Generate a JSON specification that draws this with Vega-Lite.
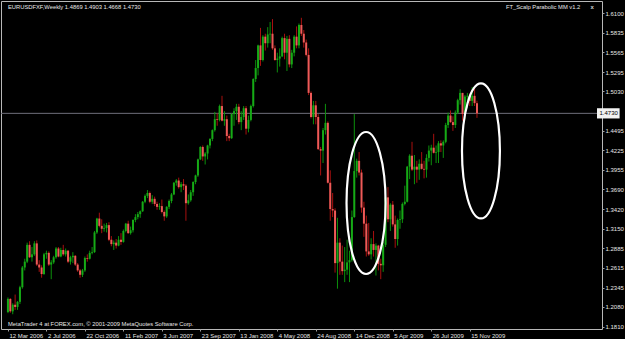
{
"$schema": "https://vega.github.io/schema/vega-lite/v6.json",
"width": 601, "height": 328,
"autosize": {"type": "none"},
"padding": {"left": 1, "top": 1, "right": 23, "bottom": 10},
"background": "#000000",
"config": {
  "view": {"stroke": "#b8b8b8", "strokeWidth": 1, "fill": "#000000"},
  "axis": {"domain": false, "grid": false, "title": null, "labelColor": "#e6e6e6", "tickColor": "#a0a0a0", "labelFont": "Liberation Sans", "labelFontSize": 6, "labelOverlap": false, "labelFlush": false}
},
"datasets": {
  "candles": [
{"d":"2006-03-12","o":1.2010,"h":1.2210,"l":1.1995,"c":1.2190},
{"d":"2006-03-19","o":1.2190,"h":1.2200,"l":1.2000,"c":1.2020},
{"d":"2006-03-26","o":1.2020,"h":1.2130,"l":1.1980,"c":1.2110},
{"d":"2006-04-02","o":1.2110,"h":1.2250,"l":1.2040,"c":1.2080},
{"d":"2006-04-09","o":1.2080,"h":1.2160,"l":1.2040,"c":1.2150},
{"d":"2006-04-16","o":1.2150,"h":1.2370,"l":1.2120,"c":1.2350},
{"d":"2006-04-23","o":1.2350,"h":1.2640,"l":1.2330,"c":1.2620},
{"d":"2006-04-30","o":1.2620,"h":1.2740,"l":1.2580,"c":1.2700},
{"d":"2006-05-07","o":1.2700,"h":1.2960,"l":1.2680,"c":1.2930},
{"d":"2006-05-14","o":1.2930,"h":1.2980,"l":1.2750,"c":1.2760},
{"d":"2006-05-21","o":1.2760,"h":1.2900,"l":1.2700,"c":1.2800},
{"d":"2006-05-28","o":1.2800,"h":1.2980,"l":1.2780,"c":1.2950},
{"d":"2006-06-04","o":1.2950,"h":1.2990,"l":1.2640,"c":1.2660},
{"d":"2006-06-11","o":1.2660,"h":1.2720,"l":1.2560,"c":1.2620},
{"d":"2006-06-18","o":1.2620,"h":1.2650,"l":1.2480,"c":1.2530},
{"d":"2006-06-25","o":1.2530,"h":1.2820,"l":1.2520,"c":1.2800},
{"d":"2006-07-02","o":1.2800,"h":1.2850,"l":1.2740,"c":1.2820},
{"d":"2006-07-09","o":1.2820,"h":1.2840,"l":1.2640,"c":1.2660},
{"d":"2006-07-16","o":1.2660,"h":1.2720,"l":1.2460,"c":1.2690},
{"d":"2006-07-23","o":1.2690,"h":1.2780,"l":1.2670,"c":1.2760},
{"d":"2006-07-30","o":1.2760,"h":1.2900,"l":1.2740,"c":1.2880},
{"d":"2006-08-06","o":1.2880,"h":1.2900,"l":1.2760,"c":1.2770},
{"d":"2006-08-13","o":1.2770,"h":1.2890,"l":1.2760,"c":1.2860},
{"d":"2006-08-20","o":1.2860,"h":1.2930,"l":1.2780,"c":1.2800},
{"d":"2006-08-27","o":1.2800,"h":1.2880,"l":1.2770,"c":1.2850},
{"d":"2006-09-03","o":1.2850,"h":1.2860,"l":1.2680,"c":1.2700},
{"d":"2006-09-10","o":1.2700,"h":1.2780,"l":1.2660,"c":1.2760},
{"d":"2006-09-17","o":1.2760,"h":1.2830,"l":1.2680,"c":1.2780},
{"d":"2006-09-24","o":1.2780,"h":1.2790,"l":1.2640,"c":1.2660},
{"d":"2006-10-01","o":1.2660,"h":1.2680,"l":1.2560,"c":1.2580},
{"d":"2006-10-08","o":1.2580,"h":1.2600,"l":1.2480,"c":1.2520},
{"d":"2006-10-15","o":1.2520,"h":1.2600,"l":1.2490,"c":1.2580},
{"d":"2006-10-22","o":1.2580,"h":1.2770,"l":1.2560,"c":1.2750},
{"d":"2006-10-29","o":1.2750,"h":1.2800,"l":1.2700,"c":1.2740},
{"d":"2006-11-05","o":1.2740,"h":1.2850,"l":1.2730,"c":1.2820},
{"d":"2006-11-12","o":1.2820,"h":1.2900,"l":1.2800,"c":1.2830},
{"d":"2006-11-19","o":1.2830,"h":1.3120,"l":1.2820,"c":1.3100},
{"d":"2006-11-26","o":1.3100,"h":1.3300,"l":1.3080,"c":1.3290},
{"d":"2006-12-03","o":1.3290,"h":1.3370,"l":1.3170,"c":1.3190},
{"d":"2006-12-10","o":1.3190,"h":1.3280,"l":1.3090,"c":1.3150},
{"d":"2006-12-17","o":1.3150,"h":1.3220,"l":1.3110,"c":1.3160},
{"d":"2006-12-24","o":1.3160,"h":1.3230,"l":1.3100,"c":1.3200},
{"d":"2006-12-31","o":1.3200,"h":1.3240,"l":1.2980,"c":1.3000},
{"d":"2007-01-07","o":1.3000,"h":1.3050,"l":1.2910,"c":1.2940},
{"d":"2007-01-14","o":1.2940,"h":1.2990,"l":1.2860,"c":1.2960},
{"d":"2007-01-21","o":1.2960,"h":1.3010,"l":1.2880,"c":1.2920},
{"d":"2007-01-28","o":1.2920,"h":1.3050,"l":1.2910,"c":1.3000},
{"d":"2007-02-04","o":1.3000,"h":1.3090,"l":1.2930,"c":1.2970},
{"d":"2007-02-11","o":1.2970,"h":1.3140,"l":1.2960,"c":1.3120},
{"d":"2007-02-18","o":1.3120,"h":1.3230,"l":1.3100,"c":1.3220},
{"d":"2007-02-25","o":1.3220,"h":1.3260,"l":1.3080,"c":1.3090},
{"d":"2007-03-04","o":1.3090,"h":1.3180,"l":1.3070,"c":1.3130},
{"d":"2007-03-11","o":1.3130,"h":1.3280,"l":1.3100,"c":1.3270},
{"d":"2007-03-18","o":1.3270,"h":1.3350,"l":1.3240,"c":1.3310},
{"d":"2007-03-25","o":1.3310,"h":1.3380,"l":1.3280,"c":1.3350},
{"d":"2007-04-01","o":1.3350,"h":1.3400,"l":1.3300,"c":1.3390},
{"d":"2007-04-08","o":1.3390,"h":1.3530,"l":1.3380,"c":1.3520},
{"d":"2007-04-15","o":1.3520,"h":1.3620,"l":1.3500,"c":1.3600},
{"d":"2007-04-22","o":1.3600,"h":1.3680,"l":1.3570,"c":1.3640},
{"d":"2007-04-29","o":1.3640,"h":1.3660,"l":1.3500,"c":1.3520},
{"d":"2007-05-06","o":1.3520,"h":1.3610,"l":1.3490,"c":1.3560},
{"d":"2007-05-13","o":1.3560,"h":1.3590,"l":1.3460,"c":1.3490},
{"d":"2007-05-20","o":1.3490,"h":1.3520,"l":1.3410,"c":1.3450},
{"d":"2007-05-27","o":1.3450,"h":1.3500,"l":1.3410,"c":1.3460},
{"d":"2007-06-03","o":1.3460,"h":1.3550,"l":1.3360,"c":1.3380},
{"d":"2007-06-10","o":1.3380,"h":1.3400,"l":1.3260,"c":1.3320},
{"d":"2007-06-17","o":1.3320,"h":1.3460,"l":1.3300,"c":1.3450},
{"d":"2007-06-24","o":1.3450,"h":1.3550,"l":1.3420,"c":1.3530},
{"d":"2007-07-01","o":1.3530,"h":1.3640,"l":1.3500,"c":1.3620},
{"d":"2007-07-08","o":1.3620,"h":1.3790,"l":1.3610,"c":1.3780},
{"d":"2007-07-15","o":1.3780,"h":1.3830,"l":1.3740,"c":1.3810},
{"d":"2007-07-22","o":1.3810,"h":1.3850,"l":1.3700,"c":1.3720},
{"d":"2007-07-29","o":1.3720,"h":1.3790,"l":1.3650,"c":1.3760},
{"d":"2007-08-05","o":1.3760,"h":1.3830,"l":1.3680,"c":1.3740},
{"d":"2007-08-12","o":1.3740,"h":1.3760,"l":1.3260,"c":1.3500},
{"d":"2007-08-19","o":1.3500,"h":1.3620,"l":1.3480,"c":1.3540},
{"d":"2007-08-26","o":1.3540,"h":1.3680,"l":1.3520,"c":1.3650},
{"d":"2007-09-02","o":1.3650,"h":1.3800,"l":1.3600,"c":1.3790},
{"d":"2007-09-09","o":1.3790,"h":1.3890,"l":1.3760,"c":1.3880},
{"d":"2007-09-16","o":1.3880,"h":1.4110,"l":1.3860,"c":1.4100},
{"d":"2007-09-23","o":1.4100,"h":1.4280,"l":1.4090,"c":1.4270},
{"d":"2007-09-30","o":1.4270,"h":1.4290,"l":1.4080,"c":1.4140},
{"d":"2007-10-07","o":1.4140,"h":1.4200,"l":1.4030,"c":1.4180},
{"d":"2007-10-14","o":1.4180,"h":1.4300,"l":1.4100,"c":1.4290},
{"d":"2007-10-21","o":1.4290,"h":1.4390,"l":1.4250,"c":1.4380},
{"d":"2007-10-28","o":1.4380,"h":1.4510,"l":1.4350,"c":1.4500},
{"d":"2007-11-04","o":1.4500,"h":1.4750,"l":1.4480,"c":1.4650},
{"d":"2007-11-11","o":1.4650,"h":1.4730,"l":1.4560,"c":1.4640},
{"d":"2007-11-18","o":1.4640,"h":1.4850,"l":1.4620,"c":1.4830},
{"d":"2007-11-25","o":1.4830,"h":1.4970,"l":1.4620,"c":1.4630},
{"d":"2007-12-02","o":1.4630,"h":1.4760,"l":1.4560,"c":1.4650},
{"d":"2007-12-09","o":1.4650,"h":1.4700,"l":1.4350,"c":1.4420},
{"d":"2007-12-16","o":1.4420,"h":1.4450,"l":1.4350,"c":1.4390},
{"d":"2007-12-23","o":1.4390,"h":1.4730,"l":1.4380,"c":1.4720},
{"d":"2007-12-30","o":1.4720,"h":1.4800,"l":1.4560,"c":1.4760},
{"d":"2008-01-06","o":1.4760,"h":1.4860,"l":1.4640,"c":1.4820},
{"d":"2008-01-13","o":1.4820,"h":1.4860,"l":1.4580,"c":1.4610},
{"d":"2008-01-20","o":1.4610,"h":1.4760,"l":1.4500,"c":1.4680},
{"d":"2008-01-27","o":1.4680,"h":1.4830,"l":1.4640,"c":1.4800},
{"d":"2008-02-03","o":1.4800,"h":1.4830,"l":1.4440,"c":1.4520},
{"d":"2008-02-10","o":1.4520,"h":1.4700,"l":1.4470,"c":1.4640},
{"d":"2008-02-17","o":1.4640,"h":1.4850,"l":1.4620,"c":1.4830},
{"d":"2008-02-24","o":1.4830,"h":1.5210,"l":1.4810,"c":1.5200},
{"d":"2008-03-02","o":1.5200,"h":1.5460,"l":1.5160,"c":1.5350},
{"d":"2008-03-09","o":1.5350,"h":1.5670,"l":1.5250,"c":1.5660},
{"d":"2008-03-16","o":1.5660,"h":1.5900,"l":1.5380,"c":1.5460},
{"d":"2008-03-23","o":1.5460,"h":1.5800,"l":1.5440,"c":1.5780},
{"d":"2008-03-30","o":1.5780,"h":1.5820,"l":1.5590,"c":1.5690},
{"d":"2008-04-06","o":1.5690,"h":1.5910,"l":1.5630,"c":1.5810},
{"d":"2008-04-13","o":1.5810,"h":1.5980,"l":1.5690,"c":1.5820},
{"d":"2008-04-20","o":1.5820,"h":1.6020,"l":1.5600,"c":1.5620},
{"d":"2008-04-27","o":1.5620,"h":1.5660,"l":1.5450,"c":1.5460},
{"d":"2008-05-04","o":1.5460,"h":1.5560,"l":1.5290,"c":1.5480},
{"d":"2008-05-11","o":1.5480,"h":1.5620,"l":1.5370,"c":1.5510},
{"d":"2008-05-18","o":1.5510,"h":1.5780,"l":1.5500,"c":1.5760},
{"d":"2008-05-25","o":1.5760,"h":1.5820,"l":1.5470,"c":1.5560},
{"d":"2008-06-01","o":1.5560,"h":1.5790,"l":1.5310,"c":1.5750},
{"d":"2008-06-08","o":1.5750,"h":1.5800,"l":1.5360,"c":1.5400},
{"d":"2008-06-15","o":1.5400,"h":1.5600,"l":1.5350,"c":1.5560},
{"d":"2008-06-22","o":1.5560,"h":1.5800,"l":1.5510,"c":1.5780},
{"d":"2008-06-29","o":1.5780,"h":1.5920,"l":1.5620,"c":1.5660},
{"d":"2008-07-06","o":1.5660,"h":1.5960,"l":1.5620,"c":1.5940},
{"d":"2008-07-13","o":1.5940,"h":1.6038,"l":1.5790,"c":1.5820},
{"d":"2008-07-20","o":1.5820,"h":1.5870,"l":1.5630,"c":1.5700},
{"d":"2008-07-27","o":1.5700,"h":1.5740,"l":1.5510,"c":1.5530},
{"d":"2008-08-03","o":1.5530,"h":1.5620,"l":1.4980,"c":1.5010},
{"d":"2008-08-10","o":1.5010,"h":1.5030,"l":1.4660,"c":1.4680},
{"d":"2008-08-17","o":1.4680,"h":1.4900,"l":1.4580,"c":1.4840},
{"d":"2008-08-24","o":1.4840,"h":1.4900,"l":1.4580,"c":1.4680},
{"d":"2008-08-31","o":1.4680,"h":1.4720,"l":1.4230,"c":1.4240},
{"d":"2008-09-07","o":1.4240,"h":1.4270,"l":1.3880,"c":1.4220},
{"d":"2008-09-14","o":1.4220,"h":1.4530,"l":1.4050,"c":1.4500},
{"d":"2008-09-21","o":1.4500,"h":1.4860,"l":1.4440,"c":1.4600},
{"d":"2008-09-28","o":1.4600,"h":1.4620,"l":1.3770,"c":1.3780},
{"d":"2008-10-05","o":1.3780,"h":1.3950,"l":1.3260,"c":1.3420},
{"d":"2008-10-12","o":1.3420,"h":1.3640,"l":1.3310,"c":1.3400},
{"d":"2008-10-19","o":1.3400,"h":1.3430,"l":1.2550,"c":1.2680},
{"d":"2008-10-26","o":1.2680,"h":1.3300,"l":1.2330,"c":1.2960},
{"d":"2008-11-02","o":1.2960,"h":1.3020,"l":1.2520,"c":1.2700},
{"d":"2008-11-09","o":1.2700,"h":1.2920,"l":1.2520,"c":1.2570},
{"d":"2008-11-16","o":1.2570,"h":1.2900,"l":1.2420,"c":1.2590},
{"d":"2008-11-23","o":1.2590,"h":1.3000,"l":1.2520,"c":1.2690},
{"d":"2008-11-30","o":1.2690,"h":1.2850,"l":1.2420,"c":1.2720},
{"d":"2008-12-07","o":1.2720,"h":1.3400,"l":1.2700,"c":1.3310},
{"d":"2008-12-14","o":1.3310,"h":1.4720,"l":1.3300,"c":1.3940},
{"d":"2008-12-21","o":1.3940,"h":1.4110,"l":1.3850,"c":1.4080},
{"d":"2008-12-28","o":1.4080,"h":1.4200,"l":1.3880,"c":1.3920},
{"d":"2009-01-04","o":1.3920,"h":1.3960,"l":1.3370,"c":1.3440},
{"d":"2009-01-11","o":1.3440,"h":1.3520,"l":1.3040,"c":1.3220},
{"d":"2009-01-18","o":1.3220,"h":1.3330,"l":1.2770,"c":1.2840},
{"d":"2009-01-25","o":1.2840,"h":1.3230,"l":1.2780,"c":1.2800},
{"d":"2009-02-01","o":1.2800,"h":1.3020,"l":1.2730,"c":1.2940},
{"d":"2009-02-08","o":1.2940,"h":1.3120,"l":1.2770,"c":1.2860},
{"d":"2009-02-15","o":1.2860,"h":1.2950,"l":1.2510,"c":1.2920},
{"d":"2009-02-22","o":1.2920,"h":1.2930,"l":1.2580,"c":1.2670},
{"d":"2009-03-01","o":1.2670,"h":1.2740,"l":1.2460,"c":1.2650},
{"d":"2009-03-08","o":1.2650,"h":1.2970,"l":1.2560,"c":1.2930},
{"d":"2009-03-15","o":1.2930,"h":1.3740,"l":1.2900,"c":1.3580},
{"d":"2009-03-22","o":1.3580,"h":1.3720,"l":1.3240,"c":1.3280},
{"d":"2009-03-29","o":1.3280,"h":1.3500,"l":1.3120,"c":1.3480},
{"d":"2009-04-05","o":1.3480,"h":1.3530,"l":1.3180,"c":1.3210},
{"d":"2009-04-12","o":1.3210,"h":1.3330,"l":1.2890,"c":1.3010},
{"d":"2009-04-19","o":1.3010,"h":1.3290,"l":1.2920,"c":1.3270},
{"d":"2009-04-26","o":1.3270,"h":1.3400,"l":1.3150,"c":1.3280},
{"d":"2009-05-03","o":1.3280,"h":1.3510,"l":1.3230,"c":1.3490},
{"d":"2009-05-10","o":1.3490,"h":1.3740,"l":1.3470,"c":1.3520},
{"d":"2009-05-17","o":1.3520,"h":1.4010,"l":1.3510,"c":1.4000},
{"d":"2009-05-24","o":1.4000,"h":1.4170,"l":1.3830,"c":1.4150},
{"d":"2009-05-31","o":1.4150,"h":1.4340,"l":1.3940,"c":1.3960},
{"d":"2009-06-07","o":1.3960,"h":1.4160,"l":1.3760,"c":1.4000},
{"d":"2009-06-14","o":1.4000,"h":1.4080,"l":1.3780,"c":1.3960},
{"d":"2009-06-21","o":1.3960,"h":1.4100,"l":1.3820,"c":1.4040},
{"d":"2009-06-28","o":1.4040,"h":1.4200,"l":1.3960,"c":1.3970},
{"d":"2009-07-05","o":1.3970,"h":1.4080,"l":1.3840,"c":1.3960},
{"d":"2009-07-12","o":1.3960,"h":1.4170,"l":1.3850,"c":1.4120},
{"d":"2009-07-19","o":1.4120,"h":1.4290,"l":1.4070,"c":1.4220},
{"d":"2009-07-26","o":1.4220,"h":1.4300,"l":1.4020,"c":1.4260},
{"d":"2009-08-02","o":1.4260,"h":1.4450,"l":1.4180,"c":1.4190},
{"d":"2009-08-09","o":1.4190,"h":1.4290,"l":1.4050,"c":1.4200},
{"d":"2009-08-16","o":1.4200,"h":1.4350,"l":1.4050,"c":1.4320},
{"d":"2009-08-23","o":1.4320,"h":1.4360,"l":1.4200,"c":1.4290},
{"d":"2009-08-30","o":1.4290,"h":1.4360,"l":1.4120,"c":1.4340},
{"d":"2009-09-06","o":1.4340,"h":1.4600,"l":1.4320,"c":1.4570},
{"d":"2009-09-13","o":1.4570,"h":1.4740,"l":1.4530,"c":1.4700},
{"d":"2009-09-20","o":1.4700,"h":1.4770,"l":1.4600,"c":1.4610},
{"d":"2009-09-27","o":1.4610,"h":1.4690,"l":1.4490,"c":1.4570},
{"d":"2009-10-04","o":1.4570,"h":1.4770,"l":1.4530,"c":1.4740},
{"d":"2009-10-11","o":1.4740,"h":1.4930,"l":1.4720,"c":1.4910},
{"d":"2009-10-18","o":1.4910,"h":1.5060,"l":1.4850,"c":1.5010},
{"d":"2009-10-25","o":1.5010,"h":1.5010,"l":1.4630,"c":1.4720},
{"d":"2009-11-01","o":1.4720,"h":1.4980,"l":1.4650,"c":1.4960},
{"d":"2009-11-08","o":1.4960,"h":1.5010,"l":1.4800,"c":1.4970},
{"d":"2009-11-15","o":1.4970,"h":1.5000,"l":1.4830,"c":1.4900},
{"d":"2009-11-22","o":1.4900,"h":1.5090,"l":1.4830,"c":1.4970},
{"d":"2009-11-29","o":1.4970,"h":1.5080,"l":1.4830,"c":1.4870},
{"d":"2009-12-06","o":1.4869,"h":1.4903,"l":1.4668,"c":1.4730}
  ]
},
"layer": [
  {
    "data": {"values": [{"price": 1.4730}]},
    "mark": {"type": "rule", "color": "#6e6e7a", "strokeWidth": 1},
    "encoding": {"y": {"field": "price", "type": "quantitative"}}
  },
  {
    "data": {"name": "candles"},
    "mark": {"type": "rule", "strokeWidth": 1},
    "encoding": {
      "x": {"field": "d", "type": "temporal"},
      "y": {"field": "l", "type": "quantitative"},
      "y2": {"field": "h"},
      "color": {"condition": {"test": "datum.c >= datum.o", "value": "#0c900c"}, "value": "#a8100f"}
    }
  },
  {
    "data": {"name": "candles"},
    "mark": {"type": "bar", "size": 2, "orient": "vertical"},
    "encoding": {
      "x": {"field": "d", "type": "temporal",
        "scale": {"type": "utc", "nice": false, "domain": [{"year": 2006, "month": 3, "date": 6, "hours": 9, "minutes": 36, "utc": true}, {"year": 2010, "month": 11, "date": 20, "hours": 7, "minutes": 12, "utc": true}]},
        "axis": {"orient": "bottom", "format": "%-d %b %Y", "tickSize": 2, "tickCount": 40, "labelAlign": "left", "labelBaseline": "top", "labelPadding": 1, "labelOffset": 1, "labelOverlap": false,
          "values": [{"year":2006,"month":3,"date":12,"utc":true},{"year":2006,"month":7,"date":2,"utc":true},{"year":2006,"month":10,"date":22,"utc":true},{"year":2007,"month":2,"date":11,"utc":true},{"year":2007,"month":6,"date":3,"utc":true},{"year":2007,"month":9,"date":23,"utc":true},{"year":2008,"month":1,"date":13,"utc":true},{"year":2008,"month":5,"date":4,"utc":true},{"year":2008,"month":8,"date":24,"utc":true},{"year":2008,"month":12,"date":14,"utc":true},{"year":2009,"month":4,"date":5,"utc":true},{"year":2009,"month":7,"date":26,"utc":true},{"year":2009,"month":11,"date":15,"utc":true}]}},
      "y": {"field": "o", "type": "quantitative",
        "scale": {"domain": [1.1778, 1.6268], "nice": false, "zero": false},
        "axis": {"orient": "right", "format": ".4f", "tickSize": 2, "tickCount": 40, "labelPadding": 1, "labelAlign": "left", "labelBaseline": "middle", "labelOverlap": false, "labelBound": false,
          "values": [1.6100, 1.5835, 1.5565, 1.5295, 1.5030, 1.4495, 1.4225, 1.3955, 1.3690, 1.3420, 1.3150, 1.2885, 1.2615, 1.2345, 1.2080, 1.1810]}},
      "y2": {"field": "c"},
      "color": {"condition": {"test": "datum.c >= datum.o", "value": "#16aa16"}, "value": "#ee5a58"}
    }
  },
  {
    "data": {"values": [{"t": "1.4730", "top": 1.4800, "bottom": 1.4660, "from": "2010-11-20T07:12:00Z", "to": "2011-01-25T02:00:00Z", "at": "2010-11-27T12:00:00Z", "price": 1.4730}]},
    "layer": [
      {"mark": {"type": "rect", "color": "#f2f2f2"},
       "encoding": {"x": {"field": "from", "type": "temporal"}, "x2": {"field": "to"}, "y": {"field": "top", "type": "quantitative"}, "y2": {"field": "bottom"}}},
      {"mark": {"type": "text", "align": "left", "baseline": "middle", "font": "Liberation Sans", "fontSize": 6, "color": "#000000"},
       "encoding": {"x": {"field": "at", "type": "temporal"}, "y": {"field": "price", "type": "quantitative"}, "text": {"field": "t"}}}
    ]
  },
  {
    "data": {"values": [
      {"t": "EURUSDFXF,Weekly  1.4869 1.4903 1.4668 1.4730", "at": "2006-03-12T03:00:00Z", "p": 1.6186},
      {"t": "MetaTrader 4 at FOREX.com, © 2001-2009 MetaQuotes Software Corp.", "at": "2006-03-12T03:00:00Z", "p": 1.1846}
    ]},
    "mark": {"type": "text", "align": "left", "baseline": "middle", "font": "Liberation Sans", "fontSize": 5.8, "color": "#e8e8e8"},
    "encoding": {
      "x": {"field": "at", "type": "temporal"},
      "y": {"field": "p", "type": "quantitative"},
      "text": {"field": "t"}
    }
  },
  {
    "data": {"values": [{"t": "FT_Scalp Parabolic MM v1.2", "at": "2010-10-02T17:00:00Z", "p": 1.6186}]},
    "mark": {"type": "text", "align": "right", "baseline": "middle", "font": "Liberation Sans", "fontSize": 5.8, "color": "#e8e8e8"},
    "encoding": {"x": {"field": "at", "type": "temporal"}, "y": {"field": "p", "type": "quantitative"}, "text": {"field": "t"}}
  },
  {
    "data": {"values": [{"t": "x", "at": "2010-11-06T07:00:00Z", "p": 1.6186}]},
    "mark": {"type": "text", "baseline": "middle", "align": "center", "font": "Liberation Sans", "fontSize": 6, "fontWeight": "bold", "color": "#d0d0d0"},
    "encoding": {"x": {"field": "at", "type": "temporal"}, "y": {"field": "p", "type": "quantitative"}, "text": {"field": "t"}}
  },
  {
    "data": {"values": [{"at": "2009-01-17T05:00:00Z", "p": 1.3503}]},
    "mark": {"type": "point", "filled": false, "stroke": "#ffffff", "strokeWidth": 2.2, "opacity": 1, "size": 20164,
      "shape": "M0,-1C0.152,-1,0.275,-0.552,0.275,0C0.275,0.552,0.152,1,0,1C-0.152,1,-0.275,0.552,-0.275,0C-0.275,-0.552,-0.152,-1,0,-1Z"},
    "encoding": {"x": {"field": "at", "type": "temporal"}, "y": {"field": "p", "type": "quantitative"}}
  },
  {
    "data": {"values": [{"at": "2009-12-17T14:00:00Z", "p": 1.4215}]},
    "mark": {"type": "point", "filled": false, "stroke": "#ffffff", "strokeWidth": 2.2, "opacity": 1, "size": 18225,
      "shape": "M0,-1C0.155,-1,0.281,-0.552,0.281,0C0.281,0.552,0.155,1,0,1C-0.155,1,-0.281,0.552,-0.281,0C-0.281,-0.552,-0.155,-1,0,-1Z"},
    "encoding": {"x": {"field": "at", "type": "temporal"}, "y": {"field": "p", "type": "quantitative"}}
  }
],
"resolve": {"scale": {"x": "shared", "y": "shared"}}
}
